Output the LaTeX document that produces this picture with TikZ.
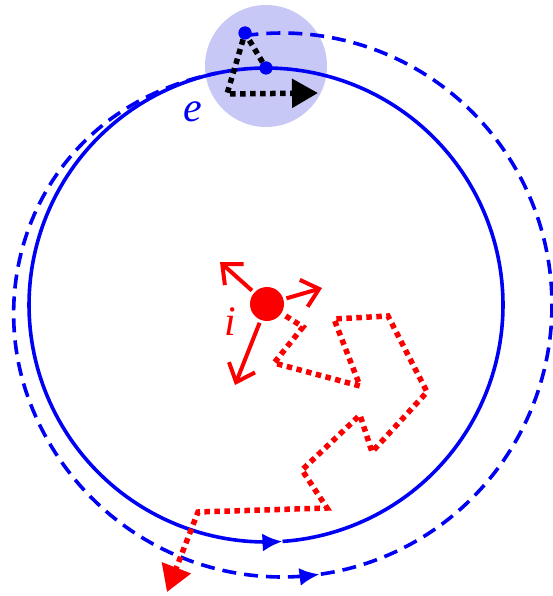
\documentclass[tikz,border=0pt]{standalone}
\usepackage{fontspec}
\setmainfont{Liberation Serif}
\usetikzlibrary{arrows.meta}
\definecolor{eblue}{RGB}{0,0,245}
\definecolor{ired}{RGB}{250,0,0}
\definecolor{halo}{RGB}{200,200,246}

\begin{document}
\begin{tikzpicture}[x=1pt,y=-1pt,
  orbit/.style={draw=eblue,line width=3.6pt},
  drift/.style={orbit,dash pattern=on 14pt off 8pt},
  hop/.style={line width=5.5pt,dash pattern=on 5.5pt off 4.5pt},
  dot/.style={circle,fill=eblue,inner sep=0pt,minimum size=13pt},
  kick/.style={draw=ired,line width=4pt,shorten <=3pt,-{Straight Barb[length=16pt,width=28pt]}},
  lbl/.style={font=\fontsize{42}{46}\selectfont\itshape},
  declare function={
    sw(\a)=min(1,max(0,(\a-250)/100));
    mx(\a)=sw(\a)*sw(\a)*(3-2*sw(\a));
    gx(\a)=(1-mx(\a))*(282+270*sin(\a))+mx(\a)*(266+237*sin(\a));
    gy(\a)=(1-mx(\a))*(305-272*cos(\a))+mx(\a)*(305-237*cos(\a));
  }]
\useasboundingbox (0,0) rectangle (553,596);

% collision region
\fill[halo] (266,66) circle[radius=61];

% orbits
\draw[orbit,{Latex[length=20pt,width=18pt]}-] plot[domain=176:360,samples=120] ({266+237*sin(\x)},{305-237*cos(\x)});
\draw[orbit] plot[domain=0:176,samples=120] ({266+237*sin(\x)},{305-237*cos(\x)});
\draw[drift,{Latex[length=20pt,width=18pt]}-] plot[domain=172:348,samples=120] ({gx(\x)},{gy(\x)});
\draw[drift] plot[domain=-8:172,samples=120] ({gx(\x)},{gy(\x)});

% electron
\node[dot] (low) at (266,68) {};
\node[dot] (top) at (245,33) {};
\coordinate (bend) at (227,94);
\coordinate (push) at (318,93);
\draw[hop,-{Triangle[length=26pt,width=28pt]}] (low) -- (top) -- (bend) -- (push);
\node[dot] at (low) {};
\node[dot] at (top) {};
\node[lbl,text=eblue] (elbl) at (193,112) {e};

% ion
\node[circle,fill=ired,minimum size=34pt,inner sep=0pt] (ion) at (267,304) {};
\node[lbl,text=ired] (ilbl) at (230,322) {i};
\coordinate (k1) at (220,262);
\coordinate (k2) at (322,288);
\coordinate (k3) at (235,385);
\draw[kick] (ion) -- (k1);
\draw[kick] (ion) -- (k2);
\draw[kick] (ion) -- (k3);

% random walk of the ion
\coordinate (out) at (167,592);
\draw[hop,draw=ired,shorten <=5pt,-{Triangle[length=26pt,width=30pt]}] (ion) -- (303,327) -- (274,363) -- (360,386) -- (334,319) -- (388,316) -- (427,392) -- (372,452) -- (360,415) -- (302,470) -- (327,508) -- (198,512) -- (out);
\end{tikzpicture}
\end{document}
